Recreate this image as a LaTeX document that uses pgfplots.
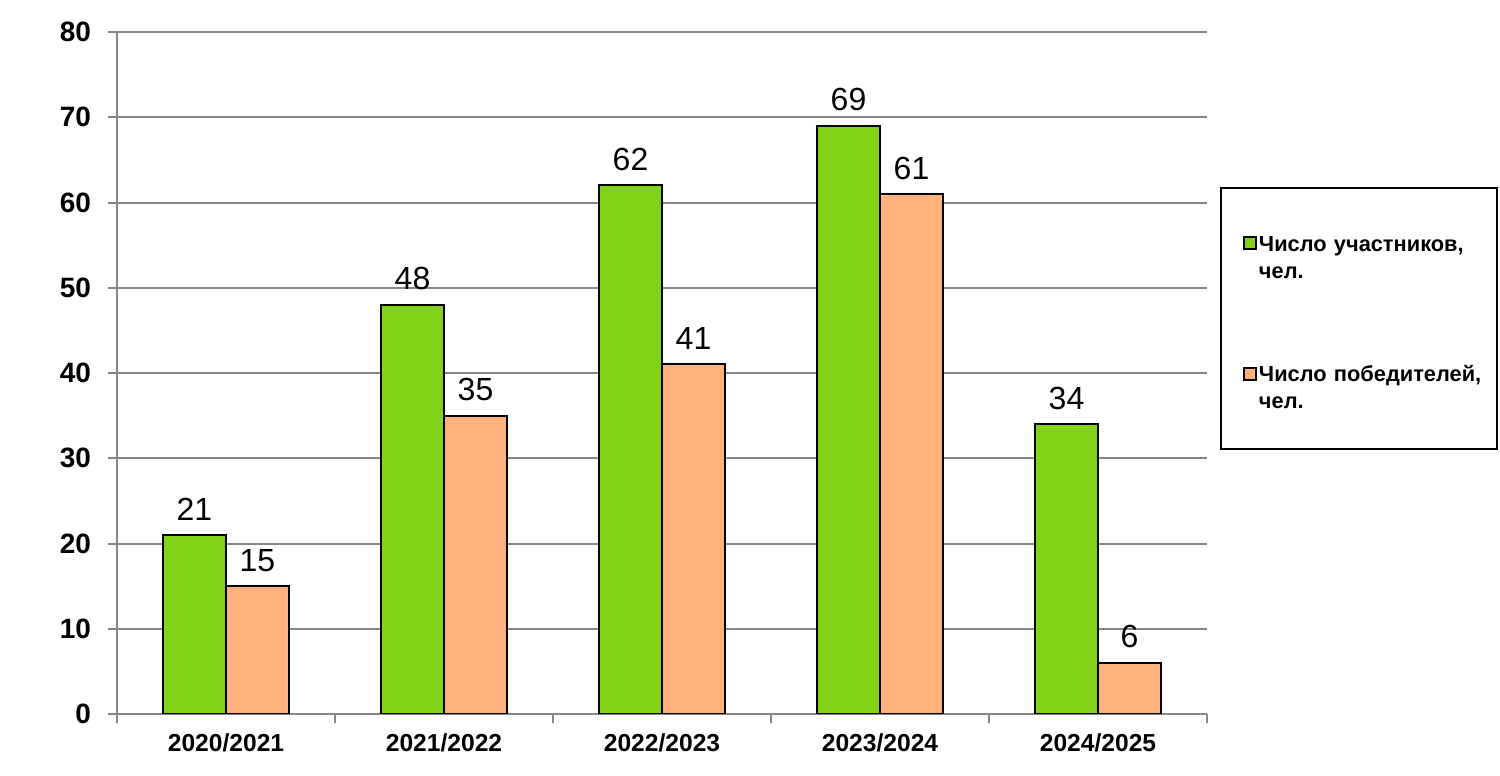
\documentclass[border=0pt]{standalone}
\usepackage{fontspec}
\setmainfont{Liberation Sans}
\usepackage{pgfplots}
\pgfplotsset{compat=1.18}
\definecolor{gridgray}{RGB}{134,134,134}
\definecolor{bargreen}{RGB}{130,210,26}
\definecolor{barorange}{RGB}{255,178,124}
\begin{document}
\begin{tikzpicture}
\useasboundingbox (0,0) rectangle (750bp,388bp);
\begin{axis}[
  at={(58.5bp,31bp)}, anchor=south west,
  scale only axis, width=545bp, height=341bp,
  ybar=0pt, bar width=31.5bp,
  xmin=-0.5, xmax=4.5, ymin=0, ymax=80,
  ytick={0,10,...,80},
  xtick={0,1,2,3,4},
  xticklabels={2020/2021,2021/2022,2022/2023,2023/2024,2024/2025},
  minor xtick={-0.5,0.5,1.5,2.5,3.5,4.5},
  major x tick style={draw=none},
  axis lines*=left,
  axis line style={gridgray, line width=1bp},
  ymajorgrids, grid style={gridgray, line width=1bp},
  tick style={gridgray, line width=1bp},
  tick align=outside,
  major tick length=4.5bp, minor tick length=4.5bp,
  /pgf/number format/assume math mode=true,
  ticklabel style={text=black},
  yticklabel style={font=\fontsize{14bp}{16bp}\selectfont\bfseries, xshift=-5bp},
  xticklabel style={font=\fontsize{12.3bp}{14bp}\selectfont\bfseries, yshift=-2bp},
  nodes near coords,
  nodes near coords style={font=\fontsize{16bp}{18bp}\selectfont, text=black, yshift=3.5bp},
  legend image code/.code={\path (-5bp,-11.2bp); \draw[#1] (0bp,1bp) rectangle (6bp,7bp);},
  legend style={at={(1.0119,0.7727)}, anchor=north west, draw=black, line width=1bp,
    inner xsep=6bp, inner ysep=22bp, row sep=43.5bp, column sep=-1bp,
    font=\fontsize{10.9bp}{13.5bp}\selectfont\bfseries,
    cells={anchor=base west, text width=111bp, align=left, inner xsep=0pt}},
]
\addplot[fill=bargreen, draw=black, line width=1bp] coordinates {(0,21) (1,48) (2,62) (3,69) (4,34)};
\addlegendentry{\mbox{Число участников,}\\чел.}
\addplot[fill=barorange, draw=black, line width=1bp] coordinates {(0,15) (1,35) (2,41) (3,61) (4,6)};
\addlegendentry{\mbox{Число победителей,}\\чел.}
\end{axis}
\end{tikzpicture}
\end{document}
